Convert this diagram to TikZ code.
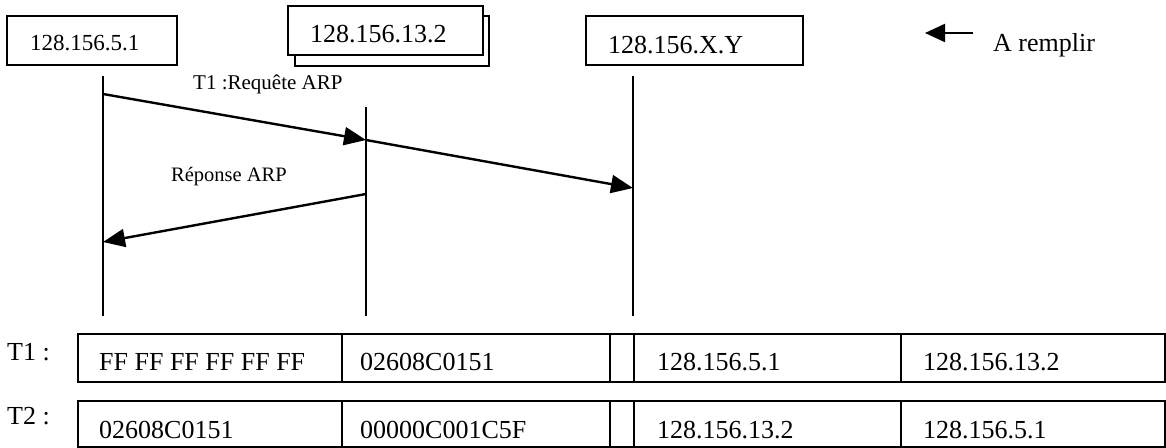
\documentclass[tikz,border=0pt]{standalone}
\usepackage{fontspec}
\setmainfont{Liberation Serif}
\usetikzlibrary{arrows.meta}
\tikzset{
  boxline/.style={draw, line width=1.9pt, inner sep=0pt},
  hostbox/.style={boxline, anchor=north west, fill=white},
  cell/.style={boxline, anchor=north west},
  life/.style={line width=2pt},
  msg/.style={line width=2.4pt, -{Triangle[length=22pt,width=18pt]}},
  txt/.style={anchor=base west, inner sep=0pt, font=\fontsize{26}{28}\selectfont},
  small/.style={anchor=base west, inner sep=0pt, font=\fontsize{21}{24}\selectfont},
}
\begin{document}
\begin{tikzpicture}[x=1pt,y=-1pt]
\useasboundingbox (0,0) rectangle (1166,447);
% host boxes
\node[hostbox, minimum width=170pt, minimum height=49pt] (hA) at (6,15) {};
\node[hostbox, minimum width=194pt, minimum height=50pt] (hBback) at (294,15) {};
\node[hostbox, minimum width=195pt, minimum height=49pt] (hB) at (287,5) {};
\node[hostbox, minimum width=217pt, minimum height=49pt] (hC) at (585,15) {};
\node[txt, font=\fontsize{23}{26}\selectfont] (tA) at (30,50) {128.156.5.1};
\node[txt] (tB) at (310,42) {128.156.13.2};
\node[txt] (tC) at (608,53) {128.156.X.Y};
% lifelines
\coordinate (la1) at (103,76);  \coordinate (la2) at (103,316);
\coordinate (lb1) at (366,107); \coordinate (lb2) at (366,316);
\coordinate (lc1) at (633,76);  \coordinate (lc2) at (633,316);
\draw[life] (la1) -- (la2);
\draw[life] (lb1) -- (lb2);
\draw[life] (lc1) -- (lc2);
% messages
\coordinate (ta) at (103,94);
\coordinate (tb) at (366,140);
\coordinate (tc) at (633,188);
\coordinate (rb) at (366,194);
\coordinate (ra) at (103,242);
\draw[msg] (ta) -- (tb);
\draw[msg] (tb) -- (tc);
\draw[msg] (rb) -- (ra);
\node[small] (lreq) at (193,89) {T1 :Requête ARP};
\node[small, font=\fontsize{20.5}{23}\selectfont] (lrep) at (171,181) {Réponse ARP};
% legend
\coordinate (lg1) at (973,33);
\coordinate (lg2) at (925,33);
\draw[line width=2.2pt, -{Triangle[length=20pt,width=18pt]}] (lg1) -- (lg2);
\node[txt] (lgt) at (993,51) {A remplir};
% frames
\node[txt] (f1) at (7,360) {T1 :};
\node[txt] (f2) at (7,424) {T2 :};
% row 1
\node[cell, minimum width=264pt, minimum height=48pt] (r1c1) at (77,333) {};
\node[cell, minimum width=268pt, minimum height=48pt] (r1c2) at (341,333) {};
\node[cell, minimum width=24pt, minimum height=48pt] (r1c3) at (609,333) {};
\node[cell, minimum width=267pt, minimum height=48pt] (r1c4) at (633,333) {};
\node[cell, minimum width=264pt, minimum height=48pt] (r1c5) at (900,333) {};
\node[txt] (r1t1) at (99,370) {FF FF FF FF FF FF};
\node[txt] (r1t2) at (360,370) {02608C0151};
\node[txt] (r1t4) at (657,370) {128.156.5.1};
\node[txt] (r1t5) at (923,370) {128.156.13.2};
% row 2
\node[cell, minimum width=264pt, minimum height=46pt] (r2c1) at (77,400) {};
\node[cell, minimum width=268pt, minimum height=46pt] (r2c2) at (341,400) {};
\node[cell, minimum width=24pt, minimum height=46pt] (r2c3) at (609,400) {};
\node[cell, minimum width=267pt, minimum height=46pt] (r2c4) at (633,400) {};
\node[cell, minimum width=264pt, minimum height=46pt] (r2c5) at (900,400) {};
\node[txt] (r2t1) at (99,438) {02608C0151};
\node[txt] (r2t2) at (360,438) {00000C001C5F};
\node[txt] (r2t4) at (657,438) {128.156.13.2};
\node[txt] (r2t5) at (923,438) {128.156.5.1};
\end{tikzpicture}
\end{document}
